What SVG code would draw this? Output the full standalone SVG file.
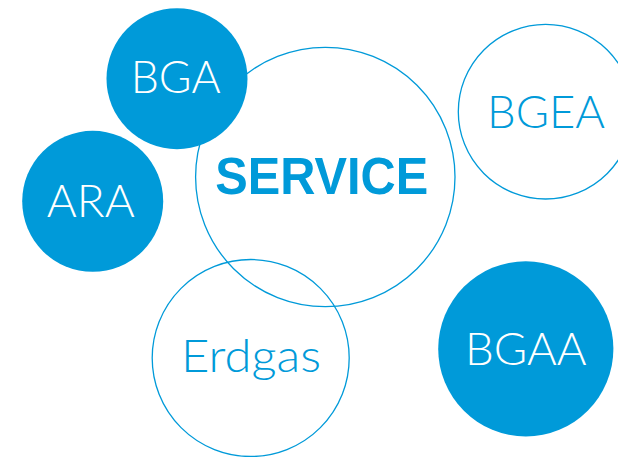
<svg xmlns="http://www.w3.org/2000/svg" width="618" height="457" viewBox="0 0 618 457">
<style>
.fill{fill:#009ad9;stroke:none}
.ring{fill:none;stroke:#009ad9;stroke-width:1.3}
.lt{font-family:Lato,"Liberation Sans",sans-serif;font-weight:300;text-anchor:middle}
.w{fill:#ffffff}
.b{fill:#009ad9}
.bold{font-family:"Liberation Sans",Arial,sans-serif;font-weight:bold;text-anchor:middle;fill:#009ad9}
</style>
<rect width="618" height="457" fill="#ffffff"/>
<g id="connectors"/>
<g id="service">
<circle class="ring" cx="325.3" cy="177" r="129.7"/>
<text class="bold" x="321.7" y="194" font-size="51" textLength="213" lengthAdjust="spacingAndGlyphs">SERVICE</text>
</g>
<g id="erdgas">
<circle class="ring" cx="250.7" cy="358" r="98.5"/>
<text class="lt b" x="251" y="371.7" font-size="46" textLength="140" lengthAdjust="spacingAndGlyphs">Erdgas</text>
</g>
<g id="bgea">
<circle class="ring" cx="545.6" cy="111.7" r="87.3"/>
<text class="lt b" x="546" y="127.7" font-size="46" textLength="118" lengthAdjust="spacingAndGlyphs">BGEA</text>
</g>
<g id="bga">
<circle class="fill" cx="177" cy="78.7" r="70.5"/>
<text class="lt w" x="175.7" y="92.7" font-size="46" textLength="90" lengthAdjust="spacingAndGlyphs">BGA</text>
</g>
<g id="ara">
<circle class="fill" cx="92.7" cy="201.3" r="70.5"/>
<text class="lt w" x="90.8" y="216.7" font-size="46" textLength="88" lengthAdjust="spacingAndGlyphs">ARA</text>
</g>
<g id="bgaa">
<circle class="fill" cx="525.8" cy="348.8" r="87.6"/>
<text class="lt w" x="525.8" y="365" font-size="46" textLength="121.7" lengthAdjust="spacingAndGlyphs">BGAA</text>
</g>
</svg>
